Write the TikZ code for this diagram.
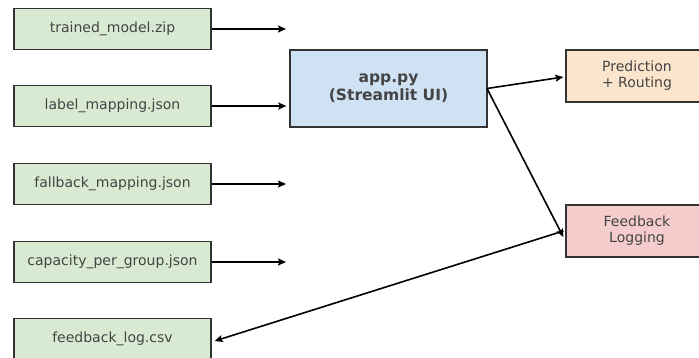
\documentclass[tikz,border=0pt]{standalone}
\usepackage{fontspec}
\setmainfont{DejaVu Sans}
\usetikzlibrary{arrows.meta}
\definecolor{gfill}{HTML}{D9EAD3}
\definecolor{bfill}{HTML}{CFE2F3}
\definecolor{ofill}{HTML}{FCE5CD}
\definecolor{pfill}{HTML}{F4CCCC}
\definecolor{edge}{HTML}{333333}
\definecolor{txt}{HTML}{444444}
\tikzset{
  filebox/.style={draw=edge, line width=1.3pt, fill=gfill, minimum width=197pt, minimum height=41pt, inner sep=0pt, text=txt, font=\fontsize{14}{16}\selectfont},
  appbox/.style={draw=edge, line width=1.3pt, fill=bfill, minimum width=197pt, minimum height=77pt, inner sep=0pt, text=txt, font=\fontsize{15.5}{18}\selectfont\bfseries, align=center},
  outbox/.style={draw=edge, line width=1.3pt, minimum width=142pt, minimum height=52pt, inner sep=0pt, text=txt, font=\fontsize{14}{16}\selectfont, align=center},
  conn/.style={-{Stealth[length=8pt,width=7pt,inset=1.5pt]}, line width=1.6pt, black}
}
\begin{document}
\begin{tikzpicture}[x=1pt,y=-1pt]
\useasboundingbox (0,0) rectangle (699,357);
\clip (0,0) rectangle (699,357);
\node[filebox] (tm) at (112.5,29) {trained\_model.zip};
\node[filebox] (lm) at (112.5,106) {label\_mapping.json};
\node[filebox] (fm) at (112.5,184) {fallback\_mapping.json};
\node[filebox] (cp) at (112.5,262) {capacity\_per\_group.json};
\node[filebox] (fl) at (112.5,339) {feedback\_log.csv};
\node[appbox] (app) at (388.5,88.5) {app.py\\(Streamlit UI)};
\node[outbox, fill=ofill] (pr) at (637,76) {Prediction\\+ Routing};
\node[outbox, fill=pfill] (fb) at (637,231) {Feedback\\Logging};
\coordinate (t1) at (286,29);
\coordinate (t3) at (286,184);
\coordinate (t4) at (286,262);
\coordinate (aout) at (487,88.5);
\draw[conn] (tm.east) -- (t1);
\draw[conn] (lm.east) -- ([xshift=-3pt]app.west |- lm.east);
\draw[conn] (fm.east) -- (t3);
\draw[conn] (cp.east) -- (t4);
\draw[conn] (aout) -- ([xshift=-2pt,yshift=-1pt]pr.west);
\draw[conn] (aout) -- ([xshift=-2pt,yshift=-6pt]fb.west);
\draw[conn] ([xshift=-2pt]fb.west) -- ([xshift=3pt,yshift=-2pt]fl.east);
\end{tikzpicture}
\end{document}
